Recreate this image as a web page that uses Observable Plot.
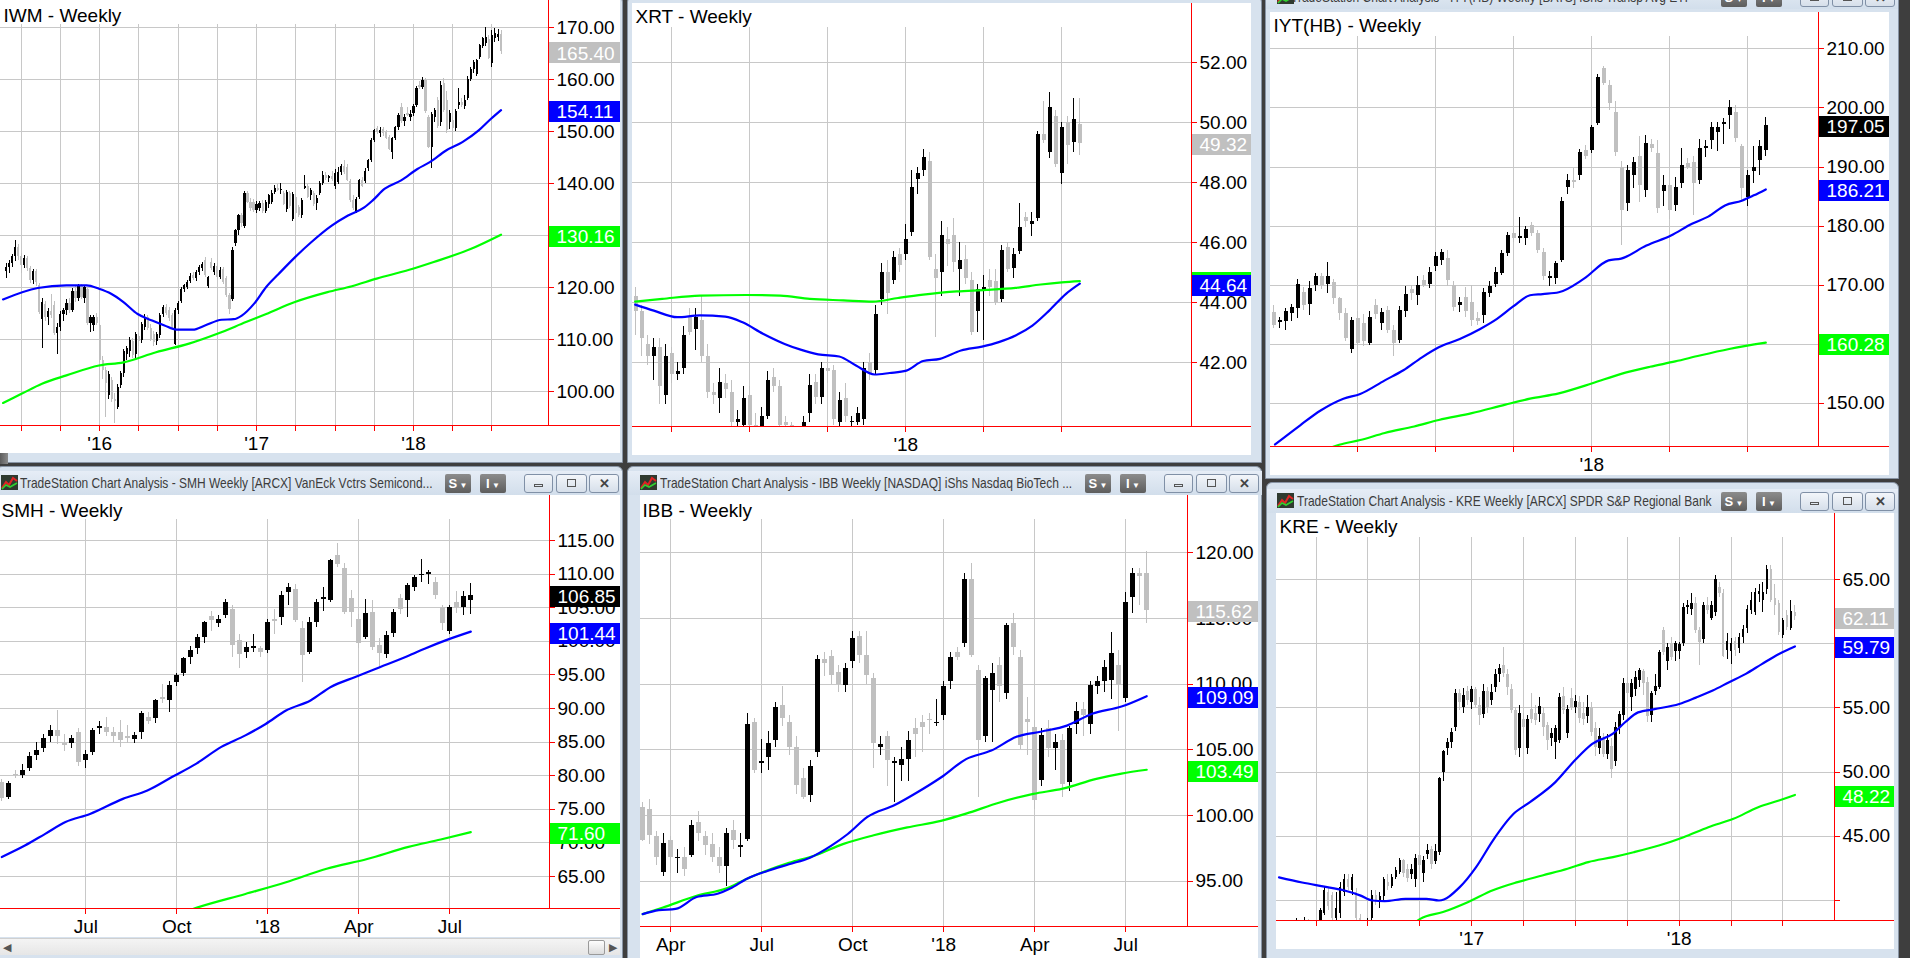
<!DOCTYPE html>
<html><head><meta charset="utf-8">
<script src="https://cdn.jsdelivr.net/npm/d3@7"></script>
<script src="https://cdn.jsdelivr.net/npm/@observablehq/plot@0.6"></script>
<style>
html,body{margin:0;padding:0}
body{width:1910px;height:958px;position:relative;overflow:hidden;background:#3e3e3e;font-family:"Liberation Sans",Arial,sans-serif}
.abs{position:absolute}
</style></head><body>
<script>
// ================= DATA =================
const END_WEEK = "2018-07-23";           // last weekly bar (Monday)
// [open, high, low, close] per week
const IWM_OHLC = [
[123.0,124.6,121.8,123.8],[123.8,125.2,122.6,124.6],[124.6,126.4,123.8,125.9],[125.9,129.0,125.0,127.6],[127.6,128.2,125.2,126.0],
[126.0,126.6,122.6,124.2],[124.2,126.2,123.6,125.6],[125.6,126.0,123.0,123.6],[123.6,124.0,120.8,121.4],[121.4,123.4,120.6,123.0],
[123.0,123.4,120.2,121.0],[120.4,120.8,114.8,115.2],[113.8,117.8,108.2,117.2],[116.8,117.4,113.4,114.2],[114.2,116.0,112.6,115.4],
[115.4,118.6,114.0,114.6],[116.6,117.4,110.8,111.2],[111.2,113.0,107.2,112.4],[112.4,115.4,111.6,114.8],[114.8,116.0,113.4,115.6],
[115.6,117.6,114.6,117.0],[117.0,117.8,115.0,115.6],[115.6,119.8,115.2,119.2],[119.2,120.2,117.2,117.8],[117.8,120.6,117.4,120.2],
[120.2,120.6,117.6,118.0],[117.8,120.4,117.0,120.0],[119.6,119.8,112.6,113.0],[113.0,114.6,111.4,114.2],[112.6,114.6,111.6,114.2],
[114.2,115.0,112.6,113.0],[112.6,112.8,105.6,106.0],[106.0,106.8,102.4,104.0],[104.0,104.6,95.0,101.6],[99.2,103.8,98.4,103.2],
[102.2,102.6,97.8,98.4],[98.4,99.6,93.8,98.0],[97.0,101.4,96.6,100.8],[101.2,103.8,100.6,103.4],[103.4,108.0,102.6,107.6],
[107.2,108.6,106.0,108.2],[107.6,110.4,106.6,109.8],[109.6,110.2,106.4,107.0],[107.2,111.4,106.4,111.0],[110.6,111.2,108.6,109.6],
[109.8,113.2,109.2,112.8],[112.4,114.8,111.8,114.2],[114.2,114.6,111.8,112.2],[112.2,112.8,109.6,110.0],[111.0,111.6,108.6,109.4],
[109.6,111.4,108.8,111.0],[110.8,115.0,110.2,114.6],[114.8,116.6,114.2,116.2],[116.2,116.8,114.6,115.0],[115.6,116.2,113.4,114.0],
[114.6,115.0,112.0,112.4],[109.0,116.0,108.8,115.6],[115.6,117.4,114.8,117.0],[117.4,120.0,117.0,119.6],[119.6,120.6,119.0,120.4],
[120.0,121.4,119.6,121.0],[121.2,122.6,120.8,122.2],[122.4,122.8,121.4,121.8],[121.8,123.2,121.2,122.8],[122.8,124.2,122.4,123.8],
[123.6,124.8,123.0,124.4],[125.2,125.8,122.0,122.4],[120.2,122.2,119.8,122.0],[124.8,125.6,123.2,123.6],[122.8,124.6,122.4,124.0],
[124.0,124.6,121.6,122.0],[122.0,123.8,121.6,123.2],[123.4,123.8,120.6,121.0],[121.8,122.2,118.0,118.4],[118.4,118.8,114.8,115.8],
[117.6,127.6,117.4,127.2],[128.4,131.2,127.8,131.0],[131.0,134.0,130.0,133.8],[133.8,134.2,131.6,132.4],[131.8,138.4,131.4,138.0],
[138.0,138.4,136.2,136.4],[136.4,137.2,134.6,135.2],[136.4,137.0,134.4,134.8],[134.8,136.6,134.2,136.0],[135.2,136.6,134.6,136.2],
[136.2,136.8,134.2,134.6],[134.6,136.8,134.2,136.4],[136.0,137.8,135.2,137.6],[136.4,138.6,136.0,138.0],[138.2,139.6,137.8,139.0],
[139.0,139.8,138.4,138.6],[138.6,140.0,137.8,138.8],[138.0,138.4,135.8,136.0],[135.0,138.6,134.4,138.2],[138.0,138.4,135.2,135.6],
[133.0,138.2,132.6,137.8],[137.4,137.8,134.0,134.2],[135.4,135.8,133.4,133.8],[133.8,137.2,133.2,136.8],[139.0,141.6,138.8,139.4],
[139.4,139.8,137.2,137.4],[137.6,139.0,136.8,138.6],[138.0,138.4,135.6,136.0],[136.2,137.6,134.8,137.2],[138.0,140.4,137.6,140.0],
[140.0,142.4,139.6,141.6],[141.6,142.2,140.6,141.0],[141.0,141.6,140.2,141.4],[141.4,142.4,140.4,140.8],[139.4,142.6,138.8,142.0],
[140.2,143.0,139.8,142.2],[142.2,143.6,141.6,143.2],[143.2,144.4,141.8,142.2],[143.0,143.6,140.4,140.6],[140.4,140.8,136.4,136.8],
[136.8,137.6,134.8,135.2],[134.6,137.4,134.2,137.0],[137.4,140.8,137.0,140.6],[140.6,141.2,139.2,139.4],[140.4,142.8,140.0,142.4],
[142.8,144.6,142.4,144.4],[144.4,148.6,144.0,148.2],[148.2,150.4,147.8,150.2],[150.6,151.0,149.4,149.8],[149.6,150.8,148.8,150.2],
[150.4,150.8,149.0,149.6],[149.8,150.2,148.4,148.6],[148.8,149.2,146.4,146.6],[146.0,148.8,144.6,148.6],[148.6,151.0,148.2,150.8],
[150.8,153.4,150.2,153.0],[154.6,155.4,151.6,152.0],[152.0,153.2,151.0,152.6],[153.4,154.6,152.8,153.0],[152.6,154.0,152.0,153.2],
[153.4,155.2,152.8,154.8],[155.0,158.6,154.6,158.2],[158.8,159.6,158.0,158.4],[158.4,160.4,158.0,159.8],[159.8,160.2,153.4,153.8],
[152.6,153.0,146.8,147.0],[147.0,153.6,142.8,153.2],[152.6,154.4,151.8,154.0],[156.0,156.6,150.6,151.0],[151.8,159.6,151.0,158.8],
[159.2,160.2,153.6,154.0],[156.0,157.6,149.6,150.2],[151.8,154.0,150.4,153.4],[152.2,152.8,147.0,150.6],[150.6,154.2,150.0,153.8],
[155.0,158.2,154.2,155.6],[155.6,156.4,154.6,155.0],[154.8,157.0,154.2,156.0],[156.4,160.6,156.0,160.0],[160.0,162.4,159.6,162.0],
[162.0,163.6,161.2,163.2],[161.0,163.8,160.6,163.6],[164.2,166.8,163.8,166.6],[166.4,168.0,166.0,167.8],[167.0,170.0,166.4,168.0],
[167.6,168.4,163.8,164.0],[163.0,169.4,162.4,168.4],[167.8,169.8,167.2,168.8],[168.0,169.6,167.4,168.6],[168.6,169.4,164.8,165.4]];
const IWM_BLUE = [[-1,117.7],[10.5,119.9],[20,120.4],[26.7,120.4],[30.8,119.75],[34.8,118.8],[38.9,117.2],[43.6,114.9],[48.4,113.65],[52.5,112.7],[56.5,111.9],[61.9,111.9],[65.9,112.7],[71.4,113.8],[75.4,113.9],[78.1,114.6],[82.2,116.9],[86.2,120.1],[90.3,122.6],[95.7,125.8],[101.1,128.7],[107.9,131.9],[113.3,133.85],[118.7,135.4],[121.4,136.7],[125.5,139.0],[130.9,140.6],[136.3,142.8],[140.4,144.1],[145.8,146.35],[151.2,147.95],[156.6,150.2],[160.6,152.4],[164,154.11]];
const IWM_GREEN = [[-1,97.8],[5.1,99.55],[11.9,101.5],[20,103.1],[30.8,105.0],[38.9,105.6],[49.7,107.55],[60.6,109.2],[70,111.1],[79.5,113.35],[86.2,114.9],[95.7,117.2],[106.5,119.1],[114.6,120.25],[122.8,121.7],[133.6,123.4],[141.7,124.9],[153.9,127.4],[164,130.16]];
const IWM_TICKS = [100,110,120,130,140,150,160,170];
const IWM_LAST = [165.40,154.11,130.16];   // close, blue average, green average

const XRT_OHLC = [
[44.2,44.5,42.9,43.7],[43.7,43.9,42.2,42.8],[42.6,42.9,41.9,42.2],[42.2,42.8,41.4,42.5],[42.5,42.8,40.6,41.2],
[40.9,42.6,40.6,42.2],[42.3,42.5,41.3,41.6],[41.6,42.0,41.4,41.7],[41.8,43.2,41.6,42.9],[43.5,43.8,42.9,43.0],
[43.1,43.8,42.4,43.5],[43.4,44.2,42.0,42.2],[42.2,42.6,40.8,41.0],[41.0,41.3,40.6,40.9],[40.8,41.8,40.3,41.35],
[41.3,41.6,40.8,41.1],[41.0,41.4,39.8,40.0],[40.0,40.4,39.6,40.1],[39.9,41.2,39.7,40.8],[40.9,41.2,39.7,39.9],
[39.9,40.3,39.4,39.7],[39.7,40.5,39.4,40.2],[40.2,41.7,40.1,41.4],[41.5,41.8,41.0,41.2],[41.2,41.4,39.8,39.9],
[40.0,40.2,39.8,39.9],[39.9,40.0,39.0,39.4],[39.4,39.8,38.8,39.6],[39.6,40.2,39.3,40.0],[40.3,41.6,40.0,41.25],
[41.35,41.6,40.6,40.85],[40.85,42.0,40.6,41.8],[41.8,42.1,41.3,41.7],[41.75,41.9,39.9,40.1],[40.0,41.0,39.8,40.75],
[40.8,41.3,40.0,40.2],[40.0,40.2,39.8,40.05],[40.0,40.5,39.9,40.3],[40.1,42.0,39.9,41.8],[42.0,42.3,41.4,41.6],
[41.75,43.9,41.6,43.6],[44.1,45.3,43.9,45.0],[45.0,45.4,43.6,44.3],[44.75,45.7,44.6,45.5],[45.6,45.8,45.0,45.25],
[45.6,46.6,45.4,46.1],[46.35,48.4,46.2,47.85],[48.1,48.5,47.6,48.3],[48.4,49.1,48.2,48.85],[48.7,49.0,45.4,45.5],
[45.1,45.6,42.85,44.8],[45.0,46.7,44.2,46.25],[46.1,46.5,45.2,45.95],[46.25,46.8,45.0,45.35],[45.1,46.0,44.2,45.4],
[45.45,45.9,44.6,44.8],[44.75,45.0,42.9,43.0],[43.7,44.6,43.0,44.45],[44.4,44.9,42.75,44.5],[44.75,45.1,44.2,44.5],
[44.7,45.1,43.9,44.0],[44.1,45.9,44.0,45.75],[45.85,46.0,45.0,45.1],[45.15,45.8,44.8,45.6],[45.7,47.3,45.6,46.5],
[46.85,47.0,46.5,46.7],[46.6,47.0,46.2,46.7],[46.8,49.7,46.7,49.6],[49.6,50.7,49.3,49.4],[49.0,51.0,48.8,50.5],
[50.2,50.4,48.5,48.6],[48.3,50.0,47.95,49.85],[50.0,50.2,48.6,49.25],[49.35,50.8,49.0,50.1],[49.95,50.8,48.9,49.32]];
const XRT_BLUE = [[-0.1,43.94],[3,43.74],[6.9,43.52],[10.7,43.58],[14.9,43.54],[17.7,43.36],[21.2,42.97],[24.8,42.63],[27.6,42.43],[30.4,42.28],[33.9,42.21],[36.7,41.91],[39.8,41.61],[42.3,41.66],[45.1,41.74],[47.9,42.06],[50.7,42.13],[54.2,42.41],[57.7,42.54],[60.5,42.69],[63.3,42.91],[66.1,43.24],[68.9,43.74],[71.7,44.3],[74,44.64]];
const XRT_GREEN = [[-0.1,44.04],[4.4,44.13],[10.7,44.24],[18.4,44.26],[24.1,44.24],[29,44.13],[34.6,44.08],[39.5,44.04],[43.7,44.16],[47.9,44.27],[53.5,44.38],[58.4,44.43],[63.3,44.5],[67.5,44.61],[71,44.68],[74,44.72]];
const XRT_TICKS = [42,44,46,48,50,52];
const XRT_LAST = [49.32,44.64,44.72];

const IYT_OHLC = [
[165.4,166.6,162.6,163.2],[163.7,164.6,162.6,164.0],[163.8,166.0,162.4,165.5],[165.2,166.8,163.8,166.3],[166.0,171.0,164.4,170.2],
[168.8,169.6,165.8,166.6],[166.7,170.6,164.8,169.4],[170.0,172.0,169.0,171.4],[171.4,172.0,169.2,170.0],[170.2,173.9,168.6,171.4],
[170.5,171.0,166.8,167.7],[167.7,168.0,164.0,165.2],[165.2,166.0,160.4,160.9],[159.2,164.6,158.4,164.0],[164.3,165.6,159.8,160.1],
[163.6,165.0,159.6,160.4],[160.1,165.6,159.8,164.6],[166.6,167.6,164.2,165.0],[163.6,166.0,162.4,165.3],[165.7,166.4,161.8,162.3],
[162.3,163.2,157.9,160.1],[160.6,166.4,160.2,165.7],[165.5,169.8,164.6,168.5],[169.2,170.0,167.4,168.6],[168.3,171.4,166.6,170.0],
[170.8,171.6,169.6,170.0],[170.2,173.0,169.4,172.2],[173.1,175.6,172.4,174.8],[174.2,176.0,173.4,175.6],[174.6,175.8,169.8,170.8],
[170.0,170.6,165.6,166.3],[166.6,168.0,165.4,167.0],[168.0,169.6,164.6,165.5],[167.1,170.0,163.0,164.0],[164.4,165.4,163.2,163.9],
[164.9,169.4,163.6,168.8],[168.6,170.6,168.0,169.7],[170.2,173.0,169.6,172.2],[172.0,175.8,171.6,175.3],[175.3,179.0,174.8,178.4],
[178.7,179.6,177.2,177.9],[177.9,181.4,177.0,178.2],[177.9,180.0,176.8,179.5],[180.1,180.6,178.2,178.7],[178.7,179.2,175.4,175.9],
[175.6,176.2,170.8,171.4],[171.2,172.4,169.7,171.5],[171.1,174.0,170.2,173.6],[174.2,184.8,173.8,184.1],[186.6,188.8,185.4,187.7],
[187.8,189.8,186.4,187.4],[188.6,193.0,187.8,192.5],[192.8,193.6,191.2,191.7],[192.8,197.0,192.2,196.7],[197.3,205.6,197.0,205.2],
[206.6,207.0,203.8,204.1],[203.8,204.6,199.6,200.7],[199.3,201.0,191.8,192.5],[190.0,191.0,176.7,182.6],[183.8,190.2,182.4,189.4],
[188.6,191.6,186.4,190.8],[191.7,195.2,184.0,186.9],[186.0,195.4,184.8,193.9],[193.8,194.6,192.4,193.2],[192.2,194.4,182.2,182.9],
[185.8,188.6,183.4,186.9],[186.9,187.2,181.2,182.6],[183.5,188.2,182.4,186.6],[187.2,193.2,186.4,190.3],[190.6,191.4,189.6,190.0],
[190.8,191.8,181.8,187.2],[187.7,194.6,187.0,193.1],[193.2,194.4,191.6,193.5],[194.5,197.6,193.0,196.7],[195.9,197.6,192.6,196.7],
[197.2,198.2,193.8,197.5],[198.7,201.2,196.4,200.1],[199.3,200.4,194.2,194.8],[193.4,193.8,184.0,186.3],[184.9,189.4,183.4,188.6],
[189.2,193.4,187.2,190.0],[191.1,194.4,188.6,193.4],[192.8,198.4,191.8,197.05]];
const IYT_BLUE = [[0.2,143.05],[4.4,146.3],[7.8,148.8],[11.6,150.8],[14.4,151.6],[18.5,153.9],[21.6,155.6],[24.7,157.8],[27.5,159.5],[31,160.9],[34.4,162.6],[37.2,164.3],[39.9,166.4],[42.7,168.3],[44.8,168.5],[47.5,168.8],[51.7,171.1],[55.8,174.2],[57.9,174.5],[62.1,176.7],[66.2,178.4],[69.7,180.4],[72.4,181.6],[75.2,183.5],[78,184.3],[80,185.2],[82,186.21]];
const IYT_GREEN = [[6,141.0],[10.9,143.0],[14.4,143.8],[18.5,145.0],[23.4,146.1],[27.5,147.2],[33,148.35],[38.6,149.8],[42.7,150.8],[47.5,151.7],[53.1,153.4],[57.9,155],[62.7,156.2],[66.9,157.1],[71,158.1],[75.9,159.2],[82,160.28]];
const IYT_TICKS = [150,160,170,180,190,200,210];
const IYT_LAST = [197.05,186.21,160.28];

const SMH_OHLC = [
[79.0,79.4,76.2,76.6],[76.8,79.2,76.4,78.8],[80.2,80.8,79.6,80.0],[80.0,81.6,79.6,80.8],[81.0,83.4,80.6,82.8],
[83.0,85.0,82.2,83.8],[84.0,86.2,83.4,85.5],[85.8,87.4,85.0,86.8],[86.8,89.7,84.6,85.8],[84.8,86.2,83.6,84.5],
[84.8,86.0,84.0,85.5],[86.5,87.0,81.4,82.0],[82.3,83.8,81.0,83.2],[83.5,87.0,83.0,86.8],[87.0,88.0,86.2,87.3],
[87.2,88.6,85.8,86.5],[86.5,87.2,85.0,85.8],[86.5,88.2,84.2,85.2],[85.8,87.4,84.8,85.6],[85.4,86.4,84.8,86.0],
[86.5,89.6,85.4,89.2],[88.7,89.4,87.6,88.0],[88.5,91.4,87.8,91.2],[91.6,93.6,90.8,91.4],[91.2,94.0,89.4,93.4],
[93.9,95.2,93.2,94.9],[95.2,97.6,94.8,97.4],[97.6,99.2,96.6,98.6],[98.9,101.0,98.0,100.6],[100.6,103.0,99.6,102.8],
[103.7,104.4,101.4,103.1],[102.6,103.8,102.0,103.2],[103.8,106.2,103.4,105.8],[104.7,105.4,97.6,99.4],[100.1,101.0,96.0,98.1],
[98.4,99.8,97.4,99.1],[98.9,101.0,98.4,99.2],[98.9,99.2,97.6,98.4],[98.6,103.2,98.2,102.8],[103.2,104.8,101.0,102.9],
[103.6,107.4,102.4,106.8],[107.3,108.6,105.4,108.0],[107.7,108.4,102.8,103.1],[101.9,103.0,93.9,97.9],[98.4,103.6,98.0,102.8],
[102.8,106.2,102.0,105.8],[106.2,108.0,104.4,106.5],[106.1,112.2,105.8,112.0],[112.8,114.5,111.0,111.5],[110.8,111.6,104.0,104.3],
[106.3,107.6,102.0,104.3],[103.3,104.0,99.0,99.6],[100.6,106.2,100.2,104.1],[104.3,106.0,98.6,99.1],[99.4,100.4,95.9,98.2],
[98.1,101.4,97.4,100.9],[101.1,104.8,100.6,104.3],[106.3,107.0,104.0,104.8],[106.1,108.6,103.6,108.3],[108.0,109.8,107.4,109.5],
[109.8,112.2,108.8,110.0],[110.0,110.6,108.4,110.2],[108.8,109.5,106.2,106.8],[105.1,105.4,101.6,102.7],[101.4,105.4,101.0,105.1],
[105.7,107.4,104.2,105.1],[105.1,107.4,103.8,106.6],[106.1,108.6,104.0,106.85]];
const SMH_BLUE = [[0,67.9],[3.3,69.6],[6.2,71.35],[9.1,73.1],[12.6,74.3],[17.3,76.55],[20.8,77.8],[24.3,79.8],[27.8,81.8],[31.3,84.25],[34.8,86],[37.7,87.7],[40.6,89.7],[44.1,91.2],[47,93.2],[50.5,94.7],[54,96.15],[57.5,97.6],[60.4,98.9],[63.3,100.1],[67,101.44]];
const SMH_GREEN = [[24,58.9],[28,60.4],[34.8,62.4],[40.6,64.15],[46.4,66.15],[52.2,67.6],[58.1,69.4],[62.7,70.5],[67,71.6]];
const SMH_TICKS = [65,70,75,80,85,90,95,100,105,110,115];
const SMH_LAST = [106.85,101.44,71.60];

const IBB_OHLC = [
[100.6,101.0,98.0,98.1],[100.5,101.2,97.8,98.5],[98.4,98.8,96.2,96.8],[95.7,98.6,95.4,97.85],[98.1,98.4,95.6,96.8],
[96.7,97.4,95.6,96.8],[96.8,97.6,95.4,95.9],[97.0,99.6,96.8,99.25],[99.5,100.3,98.0,98.6],[98.4,98.8,97.0,97.7],
[97.8,98.6,96.4,96.8],[96.8,97.6,95.6,96.1],[96.1,99.0,94.6,98.6],[98.9,99.6,97.4,98.1],[97.6,98.6,96.8,97.7],
[98.2,107.8,98.0,106.9],[107.1,107.4,103.2,103.4],[104.0,105.8,103.2,104.1],[104.4,106.4,103.4,105.5],[105.7,108.6,105.2,108.25],
[108.4,109.8,106.8,107.4],[107.1,107.6,104.6,105.2],[105.2,106.0,101.6,102.3],[102.8,103.6,101.2,101.4],[101.5,104.2,101.0,103.7],
[104.8,112.2,104.4,111.9],[111.9,112.4,110.6,111.6],[112.1,112.6,110.0,110.7],[110.9,111.4,109.4,110.0],[109.9,111.6,109.4,111.2],
[111.7,114.0,111.2,113.45],[113.6,114.0,111.6,112.2],[112.2,114.0,110.0,110.7],[110.4,110.8,103.6,105.5],[105.2,106.0,104.6,105.4],
[106.0,106.4,102.2,104.2],[104.0,104.4,101.0,104.1],[103.8,105.2,102.6,104.3],[104.3,106.4,102.6,105.7],[106.6,107.4,104.4,106.2],
[107.1,107.6,104.8,106.7],[107.3,107.8,106.2,107.2],[107.0,108.8,106.8,107.1],[107.6,110.2,107.2,109.8],[110.2,112.4,109.6,112.05],
[112.4,112.8,111.8,112.05],[113.1,118.4,112.8,118.0],[118.0,119.2,112.0,112.2],[111.05,111.4,101.4,105.7],[106.0,110.6,105.6,110.4],
[109.5,111.6,105.6,110.8],[111.4,112.0,108.6,109.8],[109.3,114.6,108.8,114.5],[114.6,115.4,112.2,112.8],[112.05,112.6,105.0,105.3],
[107.3,109.0,104.6,107.1],[106.7,107.2,100.5,101.15],[102.7,106.6,102.2,106.1],[106.6,107.2,104.4,105.1],[105.1,106.2,103.4,105.6],
[105.7,106.2,101.4,102.4],[102.5,106.8,101.8,106.6],[106.9,108.6,106.2,107.9],[108.1,108.6,106.0,107.6],[106.9,110.2,106.2,109.9],
[109.8,110.6,109.2,110.2],[110.2,111.8,109.4,111.3],[110.3,113.9,108.8,112.3],[111.4,112.6,106.4,109.9],[108.9,117.0,108.6,116.25],
[116.6,118.8,115.4,118.4],[118.4,118.8,116.0,118.2],[118.4,120.1,114.6,115.62]];
const IBB_BLUE = [[0,92.5],[2.3,92.8],[4.7,92.9],[7.7,93.8],[10.7,94.05],[12.5,94.45],[14.9,95.2],[17.9,95.8],[20.9,96.3],[23.9,96.8],[26.9,97.7],[29.3,98.6],[32.1,99.9],[36,100.8],[39,101.7],[42.6,102.9],[46.2,104.3],[49.8,104.95],[53.4,106],[57,106.4],[60.6,106.85],[64.2,107.75],[68.4,108.3],[72,109.09]];
const IBB_GREEN = [[0,92.5],[2.9,93.0],[7.7,93.9],[11.9,94.45],[14.9,95.2],[20.9,96.4],[24.5,96.95],[28.7,97.85],[33,98.5],[37.8,99.1],[42.6,99.6],[46.2,100.15],[51,101.0],[55.8,101.65],[60,102.05],[64.8,102.8],[68.4,103.2],[72,103.49]];
const IBB_TICKS = [95,100,105,110,115,120];
const IBB_LAST = [115.62,109.09,103.49];

const KRE_OHLC = [
[37.4,38.6,36.9,38.1],[38.1,38.3,37.3,37.8],[37.6,38.7,37.2,38.2],[38.2,38.5,37.0,37.4],[37.0,38.2,36.6,37.8],
[37.8,38.3,37.4,37.9],[38.0,39.4,37.8,39.2],[39.0,41.0,38.8,40.8],[40.6,40.9,39.2,39.5],[40.4,40.6,38.3,38.6],
[38.6,40.6,38.2,39.4],[39.0,41.4,38.6,41.0],[40.6,42.0,40.3,41.6],[41.6,42.0,40.8,41.0],[40.8,42.0,40.4,41.8],
[40.6,40.9,38.4,38.6],[38.6,38.9,37.0,37.4],[37.4,38.0,36.5,37.8],[37.8,38.6,37.6,38.4],[38.6,40.8,38.4,40.4],
[40.4,40.8,39.6,39.9],[39.9,40.6,39.4,40.3],[40.3,41.8,40.0,41.6],[41.4,42.0,40.8,41.1],[41.1,42.0,40.9,41.8],
[41.8,42.6,41.6,42.3],[42.2,43.3,42.0,43.1],[43.1,43.2,41.8,42.1],[42.4,42.8,41.4,41.7],[42.0,42.8,41.6,42.4],
[41.6,43.6,41.0,43.25],[43.5,43.8,42.4,42.7],[42.1,43.4,41.4,43.1],[43.6,44.4,43.2,43.9],[44.0,44.2,42.4,42.8],
[43.0,44.4,42.8,43.8],[43.7,49.6,43.5,49.5],[50.0,51.7,49.3,51.6],[51.8,52.6,51.3,52.3],[52.3,53.4,51.8,53.1],
[53.5,56.4,53.2,56.1],[56.1,56.4,54.8,55.4],[55.0,56.5,54.6,56.0],[56.3,56.7,55.2,55.6],[55.4,56.7,54.9,56.4],
[56.4,56.6,55.0,55.2],[55.2,55.8,53.6,54.4],[54.5,56.8,54.2,56.3],[56.3,56.6,54.6,55.0],[55.6,56.8,55.2,56.2],
[56.6,58.0,56.2,57.6],[57.6,58.4,57.0,58.1],[58.3,59.7,57.4,57.7],[57.6,58.0,56.0,56.6],[56.4,56.8,54.6,54.8],
[54.8,55.0,51.3,51.7],[51.8,55.2,51.1,54.6],[54.1,54.6,53.0,53.5],[51.8,54.4,51.4,54.1],[54.9,56.1,53.8,54.1],
[54.6,55.2,53.6,54.0],[54.5,55.8,53.9,55.1],[54.6,55.0,52.8,53.5],[53.6,53.9,51.7,52.5],[52.6,53.4,52.0,53.0],
[52.3,53.6,51.0,53.4],[52.5,56.1,52.2,55.8],[55.9,56.6,54.5,54.8],[53.0,55.2,52.6,54.9],[55.7,56.5,54.8,55.0],
[55.0,56.0,54.6,55.5],[55.4,55.9,53.8,54.2],[54.6,55.4,53.6,54.1],[54.3,56.0,53.8,55.0],[55.0,55.4,52.8,53.1],
[53.4,53.9,51.2,51.9],[51.8,53.4,51.4,52.8],[52.6,53.0,51.1,51.4],[51.4,52.9,51.0,52.5],[52.0,52.6,49.5,50.2],
[50.8,53.9,50.4,53.5],[53.5,54.7,52.9,54.5],[54.4,57.3,54.0,56.9],[56.9,57.4,55.4,56.1],[55.8,57.2,54.7,56.9],
[56.4,57.8,55.9,57.4],[57.1,58.1,56.6,57.9],[57.8,58.0,56.0,56.9],[57.0,57.4,53.9,54.3],[54.4,56.3,53.9,56.1],
[56.3,57.6,56.0,56.7],[56.6,59.5,56.4,59.3],[61.0,61.3,59.1,59.3],[58.6,60.0,57.9,59.7],[60.0,60.5,58.7,58.9],
[59.4,60.2,58.6,60.0],[59.4,60.1,58.8,59.9],[60.0,63.1,59.8,62.8],[62.8,63.4,62.3,63.0],[62.7,63.9,62.2,63.1],
[63.1,63.6,60.8,61.0],[61.0,61.3,58.3,60.1],[60.3,63.2,60.0,63.0],[63.0,63.6,62.3,62.6],[62.0,63.3,61.8,63.0],
[62.4,65.3,62.1,65.0],[64.4,64.8,63.6,63.9],[63.9,64.2,58.9,59.0],[59.5,60.8,58.8,60.2],[59.4,60.4,58.4,60.0],
[60.2,60.5,59.0,59.5],[59.6,60.8,59.2,60.5],[60.5,61.4,60.0,61.1],[61.2,63.0,60.8,62.7],[62.6,64.0,62.3,63.4],
[62.4,64.3,62.2,64.0],[63.8,64.6,63.2,64.1],[63.4,64.8,62.4,64.0],[64.2,66.1,63.8,65.8],[65.8,66.1,63.2,63.4],
[63.5,64.6,62.2,63.0],[63.1,63.4,60.6,60.9],[60.6,62.0,60.4,61.8],[62.2,62.6,61.0,61.3],[61.2,63.4,61.0,62.5],
[62.45,63.0,61.8,62.11]];
const KRE_BLUE = [[-4.3,41.8],[1.5,41.4],[6.7,41.1],[11.9,40.8],[16,40.4],[19.1,40.0],[22.2,39.95],[27.4,40.13],[32.6,40.13],[35.8,40.0],[41,41.04],[45.1,42.6],[49.3,44.67],[54.5,46.75],[58.6,47.66],[64.9,49.2],[70.1,51.0],[74.2,52.2],[79.4,53.0],[82.5,53.9],[85.7,54.65],[89.8,54.9],[96,55.3],[100.2,55.8],[104.4,56.35],[108.5,57.0],[112.7,57.65],[116.8,58.43],[121,59.2],[125,59.79]];
const KRE_GREEN = [[29,38.1],[31.1,38.57],[36.8,39.1],[43,39.87],[49.3,40.8],[55.5,41.43],[61.7,41.95],[68,42.47],[73.2,42.99],[79.4,43.38],[84.6,43.76],[90.9,44.28],[97.1,44.93],[103.3,45.71],[109.6,46.36],[115.8,47.27],[121,47.79],[125,48.22]];
const KRE_TICKS = [40,45,50,55,60,65];
const KRE_LABELS = [45,50,55,60,65];
const KRE_LAST = [62.11,59.79,48.22];

// ================= LAYOUT (page pixels) =================
const PANELS = [
 {title:"IWM - Weekly", ohlc:IWM_OHLC, blue:IWM_BLUE, green:IWM_GREEN, ticks:IWM_TICKS, labels:IWM_TICKS, last:IWM_LAST,
  left:0, top:0, w:620, h:453, xRed:548, x18:413, pxWeek:3.018, yBottom:425, refV:170, refY:27, ppu:5.2,
  body:2.2, wick:1, gridFrom:"2015-07-01", gridTo:"2018-07-01", years:true, tdx:3, tdy:8},
 {title:"XRT - Weekly", ohlc:XRT_OHLC, blue:XRT_BLUE, green:XRT_GREEN, ticks:XRT_TICKS, labels:XRT_TICKS, last:XRT_LAST,
  left:632, top:3, w:619, h:452, xRed:1191, x18:905.3, pxWeek:6.0, yBottom:426, refV:52, refY:62.3, ppu:30,
  body:4.4, wick:1.2, gridFrom:"2017-04-01", gridTo:"2018-07-01", years:true, tdx:3, tdy:6},
 {title:"IYT(HB) - Weekly", ohlc:IYT_OHLC, blue:IYT_BLUE, green:IYT_GREEN, ticks:IYT_TICKS, labels:IYT_TICKS, last:IYT_LAST,
  left:1270, top:12, w:619, h:463, xRed:1818, x18:1591.3, pxWeek:6.0, yBottom:446, refV:210, refY:48.3, ppu:5.91,
  body:4.4, wick:1.2, gridFrom:"2017-04-01", gridTo:"2018-07-01", years:true, tdx:3, tdy:6},
 {title:"SMH - Weekly", ohlc:SMH_OHLC, blue:SMH_BLUE, green:SMH_GREEN, ticks:SMH_TICKS, labels:SMH_TICKS, last:SMH_LAST,
  left:0, top:495, w:620, h:442, xRed:549, x18:267.3, pxWeek:7.0, yBottom:908, refV:115, refY:540, ppu:6.72,
  body:5, wick:1.2, gridFrom:"2017-07-01", gridTo:"2018-07-01", years:false, tdx:1, tdy:8},
 {title:"IBB - Weekly", ohlc:IBB_OHLC, blue:IBB_BLUE, green:IBB_GREEN, ticks:IBB_TICKS, labels:IBB_TICKS, last:IBB_LAST,
  left:640, top:495, w:618, h:463, xRed:1187, x18:943.2, pxWeek:7.0, yBottom:926, refV:120, refY:552.3, ppu:13.14,
  body:5, wick:1.2, gridFrom:"2017-04-01", gridTo:"2018-07-01", years:false, tdx:2, tdy:8},
 {title:"KRE - Weekly", ohlc:KRE_OHLC, blue:KRE_BLUE, green:KRE_GREEN, ticks:KRE_TICKS, labels:KRE_LABELS, last:KRE_LAST,
  left:1276, top:513, w:618, h:436, xRed:1834, x18:1678.7, pxWeek:3.99, yBottom:920.3, refV:65, refY:579, ppu:12.84,
  body:2.8, wick:1, gridFrom:"2016-04-01", gridTo:"2018-07-01", years:true, tdx:3, tdy:6}
];
const WINDOWS = [
 {x:-4, y:-4, w:627, h:467}, {x:627, y:-4, w:635, h:467}, {x:1265, y:-24, w:634, h:503},
 {x:-4, y:466, w:627, h:500}, {x:627, y:466, w:635, h:500}, {x:1266, y:482, w:633, h:480}
];
const TITLEBARS = [
 {x:1266, y:-15, w:632, icon:1277, tx:1291, text:"TradeStation Chart Analysis - IYT(HB) Weekly [BATS] iShs Transp Avg ETF"},
 {x:0, y:471, w:622, icon:1, tx:20, text:"TradeStation Chart Analysis - SMH Weekly [ARCX] VanEck Vctrs Semicond..."},
 {x:628, y:471, w:634, icon:640, tx:660, text:"TradeStation Chart Analysis - IBB Weekly [NASDAQ] iShs Nasdaq BioTech ..."},
 {x:1267, y:489, w:631, icon:1277, tx:1297, text:"TradeStation Chart Analysis - KRE Weekly [ARCX] SPDR S&P Regional Bank"}
];

// ================= RENDER =================
const DAY = 864e5, REF18 = Date.UTC(2018,0,1), END = Date.parse(END_WEEK + "T00:00:00Z");
const MONTHS = ["Jan","Feb","Mar","Apr","May","Jun","Jul","Aug","Sep","Oct","Nov","Dec"];
const GRID = "#c8c8c8", RED = "#ff0000", GRAY = "#c0c0c0";
const FONT = '"Liberation Sans", Arial, sans-serif';

function box(css, text) {
  const d = document.createElement("div");
  d.className = "abs"; d.style.cssText += css;
  if (text != null) d.textContent = text;
  document.body.appendChild(d); return d;
}

WINDOWS.forEach(w => box(`left:${w.x}px;top:${w.y}px;width:${w.w}px;height:${w.h}px;background:#d7e2ee;border:1px solid #8894a4;border-radius:6px 6px 0 0;box-sizing:border-box;`));
box("left:0;top:408px;width:8px;height:56px;background:linear-gradient(90deg,#5c5c5c,#8a8a8a);");

function chart(p) {
  const L = p.left, T = p.top, W = p.w, H = p.h;
  const dateAt = xo => new Date(REF18 + (xo - p.x18) / p.pxWeek * 7 * DAY);
  const valAt = yo => p.refV - (yo - p.refY) / p.ppu;
  const xA = dateAt(L), xB = dateAt(L + W);
  const yMin = valAt(p.yBottom), yMax = valAt(T);
  const n = p.ohlc.length;
  const dateOf = i => new Date(END - (n - 1 - i) * 7 * DAY);
  const bars = p.ohlc.map(([o,h,l,c], i) => ({date: dateOf(i), o, h, l, c}));
  const up = bars.filter(b => b.c >= b.o), dn = bars.filter(b => b.c < b.o);
  const minB = 1.3 / p.ppu;
  const pad = b => Math.max(0, (minB - Math.abs(b.c - b.o)) / 2);
  const lo = b => Math.min(b.o, b.c) - pad(b), hi = b => Math.max(b.o, b.c) + pad(b);
  const red = dateAt(p.xRed), tickEnd = dateAt(p.xRed + 6), lab = dateAt(p.xRed + 8), boxL = dateAt(p.xRed + 1);
  const gridTop = valAt(T + 24);
  const quarters = d3.utcMonth.every(3).range(new Date(p.gridFrom), new Date(Date.parse(p.gridTo) + DAY)).map(d => d3.utcMonday.ceil(d));
  const fmt = d => { const m = new Date(d.getTime() + 3 * DAY); return m.getUTCMonth() === 0 ? "'" + String(m.getUTCFullYear()).slice(2) : MONTHS[m.getUTCMonth()]; };
  const xlabs = p.years ? quarters.filter(d => new Date(d.getTime() + 3*DAY).getUTCMonth() === 0) : quarters;
  const ma = arr => arr.map(([i, v]) => ({date: dateOf(i), v}));
  const candle = (set, color) => [
    Plot.ruleX(set, {x: "date", y1: "l", y2: "h", stroke: color, strokeWidth: p.wick, clip: true, shapeRendering: "crispEdges"}),
    Plot.ruleX(set, {x: "date", y1: lo, y2: hi, stroke: color, strokeWidth: p.body, clip: true, shapeRendering: "crispEdges"})
  ];
  const lastBar = bars[n - 1];
  const boxes = [
    {v: p.last[0], fill: lastBar.c >= lastBar.o ? "#000000" : GRAY},
    {v: p.last[2], fill: "#00ff00"},
    {v: p.last[1], fill: "#0000ff"}
  ];
  const halfB = 10.5 / p.ppu, offB = 2 / p.ppu;
  const svg = Plot.plot({
    width: W, height: H,
    marginTop: 0, marginLeft: 0, marginRight: 0, marginBottom: H - (p.yBottom - T),
    x: {type: "utc", domain: [xA, xB], axis: null},
    y: {domain: [yMin, yMax], axis: null},
    style: {background: "#ffffff", fontFamily: FONT, overflow: "visible"},
    marks: [
      Plot.ruleY(p.ticks, {x1: () => xA, x2: () => red, stroke: GRID, shapeRendering: "crispEdges"}),
      Plot.ruleX(quarters, {x: d => d, y1: () => yMin, y2: () => gridTop, stroke: GRID, shapeRendering: "crispEdges"}),
      ...candle(dn, GRAY),
      ...candle(up, "#000000"),
      Plot.line(ma(p.green), {x: "date", y: "v", stroke: "#00ff00", strokeWidth: 2.2, curve: "monotone-x", clip: true}),
      Plot.line(ma(p.blue), {x: "date", y: "v", stroke: "#0000ff", strokeWidth: 2.2, curve: "monotone-x", clip: true}),
      Plot.ruleX([red], {stroke: RED, shapeRendering: "crispEdges"}),
      Plot.ruleY([yMin], {stroke: RED, strokeWidth: 1.3, shapeRendering: "crispEdges"}),
      Plot.ruleY(p.ticks, {x1: () => red, x2: () => tickEnd, stroke: RED, shapeRendering: "crispEdges"}),
      Plot.ruleX(quarters, {x: d => d, y1: () => yMin, y2: () => valAt(p.yBottom + 6), stroke: RED, shapeRendering: "crispEdges"}),
      Plot.text(p.labels, {x: () => lab, y: d => d, text: d => d.toFixed(2), textAnchor: "start", fontSize: 19, fill: "#000"}),
      ...boxes.flatMap(b => [
        Plot.rect([b], {x1: () => boxL, x2: () => xB, y1: d => d.v - halfB - offB, y2: d => d.v + halfB - offB, fill: b.fill, shapeRendering: "crispEdges"}),
        Plot.text([b], {x: () => lab, y: d => d.v - offB, text: d => d.v.toFixed(2), textAnchor: "start", fontSize: 19, fill: "#ffffff"})
      ]),
      Plot.text([p.title], {frameAnchor: "top-left", text: d => d, textAnchor: "start", lineAnchor: "top", dx: p.tdx, dy: p.tdy, fontSize: 19, fill: "#000"}),
      Plot.text(xlabs, {x: d => d, y: () => yMin, dy: 18.5, text: fmt, fontSize: 19, fill: "#000"})
    ]
  });
  const holder = box(`left:${L}px;top:${T}px;width:${W}px;height:${H}px;overflow:hidden;background:#fff;`);
  holder.appendChild(svg);
}
PANELS.forEach(chart);

// scrollbar of SMH window
const sb = box("left:0;top:938px;width:620px;height:16px;background:linear-gradient(#f4f4f4,#e6e6e6);border-top:1px solid #d0d0d0;");
sb.innerHTML = '<div style="position:absolute;left:3px;top:0;font-size:11px;color:#555;line-height:16px">&#9664;</div>' +
  '<div style="position:absolute;left:588px;top:1px;width:15px;height:13px;border:1px solid #9a9a9a;border-radius:2px;background:linear-gradient(#fdfdfd,#dcdcdc)"></div>' +
  '<div style="position:absolute;left:609px;top:0;font-size:11px;color:#555;line-height:16px">&#9654;</div>';

// window title bars
const ICON = '<svg width="17" height="15" viewBox="0 0 17 15"><rect width="17" height="15" fill="#2f3a2f"/><polyline points="1,13 5,7 8,10 12,3 16,6" fill="none" stroke="#e02424" stroke-width="2"/><polyline points="1,14 5,10 9,12 16,8" fill="none" stroke="#2fd02f" stroke-width="1.6"/></svg>';
TITLEBARS.forEach(t => {
  const bar = box(`left:${t.x}px;top:${t.y}px;width:${t.w}px;height:24px;background:linear-gradient(#e6edf6,#d2deeb);`);
  const R = t.w;
  bar.innerHTML =
    `<div style="position:absolute;left:${t.icon - t.x}px;top:4px">${ICON}</div>` +
    `<div style="position:absolute;left:${t.tx - t.x}px;top:0;line-height:24px;font-size:15px;color:#3c3c3c;white-space:nowrap;transform:scaleX(0.8);transform-origin:0 50%">${t.text.replace(/&/g,"&amp;")}</div>` +
    `<div style="position:absolute;left:${R-177}px;top:3px;width:26px;height:19px;background:linear-gradient(#8c8c8c,#5d5d5d);border-radius:2px;color:#fff;font-weight:bold;font-size:13px;line-height:19px;text-align:center">S<span style="font-size:8px"> &#9660;</span></div>` +
    `<div style="position:absolute;left:${R-142}px;top:3px;width:26px;height:19px;background:linear-gradient(#8c8c8c,#5d5d5d);border-radius:2px;color:#fff;font-weight:bold;font-size:13px;line-height:19px;text-align:center">I<span style="font-size:8px"> &#9660;</span></div>` +
    `<div style="position:absolute;left:${R-98}px;top:3px;width:29px;height:19px;box-sizing:border-box;border:1px solid #8090a6;border-radius:3px;background:linear-gradient(#f3f6fa,#d6dfea)"><div style="position:absolute;left:9px;top:9px;width:9px;height:3px;border:1px solid #555;box-sizing:border-box"></div></div>` +
    `<div style="position:absolute;left:${R-66}px;top:3px;width:31px;height:19px;box-sizing:border-box;border:1px solid #8090a6;border-radius:3px;background:linear-gradient(#f3f6fa,#d6dfea)"><div style="position:absolute;left:10px;top:4px;width:9px;height:8px;border:1px solid #555;box-sizing:border-box"></div></div>` +
    `<div style="position:absolute;left:${R-33}px;top:3px;width:30px;height:19px;box-sizing:border-box;border:1px solid #8090a6;border-radius:3px;background:linear-gradient(#f3f6fa,#d6dfea);text-align:center;line-height:17px;font-size:13px;color:#444;font-weight:bold">&#10005;</div>`;
});
</script>
</body></html>
